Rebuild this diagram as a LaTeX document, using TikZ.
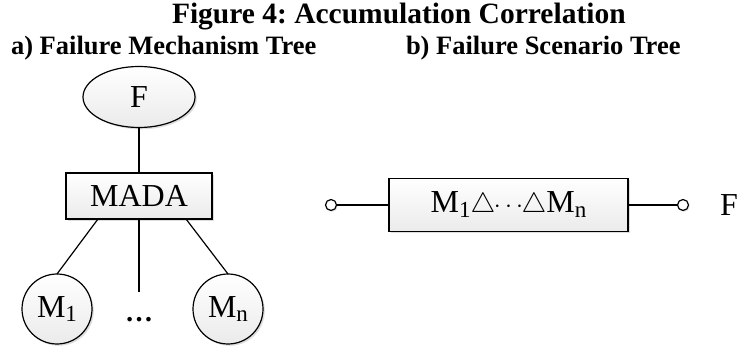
\documentclass[tikz,border=0pt]{standalone}
\usepackage{fontspec}
\setmainfont{Liberation Serif}
\usetikzlibrary{shapes.geometric,shadows}
\frenchspacing
\newcommand{\mysub}[1]{\raisebox{-0.3ex}{\fontsize{23}{23}\selectfont #1}}
\newcommand{\mytri}{\scalebox{1.12}{$\bigtriangleup$}}
\begin{document}
\begin{tikzpicture}[x=1pt,y=-1pt,
  every node/.style={inner sep=0pt,outer sep=0pt},
  shade box/.style={draw=black,line width=1.2pt,top color=white,bottom color=black!8,
    drop shadow={shadow xshift=1.8pt,shadow yshift=-1.8pt,fill=black!22,opacity=0.6}},
  conn/.style={line width=1.2pt},
  term/.style={circle,draw,line width=1.2pt,fill=white,minimum size=11pt,
    drop shadow={shadow xshift=1.2pt,shadow yshift=-1.2pt,fill=black!22,opacity=0.6}},
  lbl/.style={font=\fontsize{32}{34}\selectfont},
  ttl/.style={font=\fontsize{29.5}{31}\selectfont\bfseries},
  sub/.style={font=\fontsize{26.5}{28}\selectfont\bfseries}]
\useasboundingbox (0,0) rectangle (739,352);
% titles
\node[ttl,anchor=base west] (title) at (172,24) {\frenchspacing Figure 4: Accumulation Correlation};
\node[sub,anchor=base west] (suba) at (11,55) {a) Failure Mechanism Tree};
\node[sub,anchor=base west] (subb) at (406,55) {b) Failure Scenario Tree};
% tree a
\node[shade box,ellipse,minimum width=112pt,minimum height=61pt,lbl] (f) at (139,97) {F};
\node[shade box,rectangle,minimum width=146pt,minimum height=46pt,lbl] (mada) at (139,196) {MADA};
\node[shade box,circle,minimum size=70pt,lbl] (m1) at (57,309) {M\mysub{1}};
\node[shade box,circle,minimum size=70pt,lbl] (mn) at (228,309) {M\mysub{n}};
\node[font=\fontsize{28}{30}\selectfont\bfseries,anchor=base] (dots) at (139,322) {…};
\coordinate (mid) at (139,292);
\draw[conn] (f.south) -- (mada.north);
\draw[conn] ([xshift=-41pt]mada.south) -- (m1.north);
\draw[conn] ([xshift=47pt]mada.south) -- (mn.north);
\draw[conn] (mada.south) -- (mid);
% tree b
\node[shade box,rectangle,minimum width=239pt,minimum height=53pt,lbl] (box) at (508.5,205)
  {M\mysub{1}\mytri$\mkern-1mu\cdot\mkern-1mu\cdot\mkern-1mu\cdot\mkern-1mu$\mytri M\mysub{n}};
\node[term] (in) at (331,205) {};
\node[term] (out) at (683,205) {};
\node[lbl,anchor=base] (fout) at (729,216) {F};
\draw[conn] (in) -- (box.west);
\draw[conn] (box.east) -- (out);
\end{tikzpicture}
\end{document}
